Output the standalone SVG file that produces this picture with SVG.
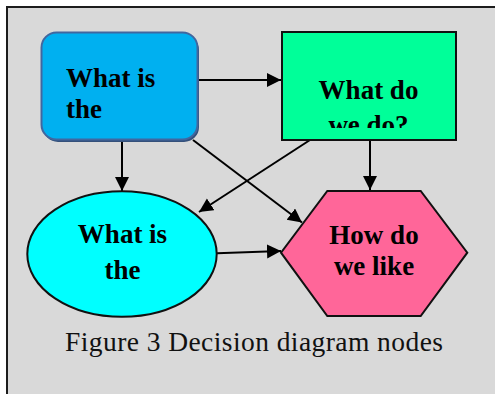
<svg xmlns="http://www.w3.org/2000/svg" width="495" height="394" viewBox="0 0 495 394">
<style>
.lbl{font-family:"Liberation Serif","Times New Roman",serif;font-weight:bold;font-size:27px;fill:#000}
.cap{font-family:"Liberation Serif","Times New Roman",serif;font-size:27.5px;fill:#111}
.edge{stroke:#000;stroke-width:2;fill:none;marker-end:url(#ah)}
.nb{stroke:#111;stroke-width:2}
</style>
<defs>
<marker id="ah" markerUnits="userSpaceOnUse" markerWidth="15" markerHeight="15" refX="14" refY="7" orient="auto">
<path d="M0,0 L14,7 L0,14 z" fill="#000"/>
</marker>
<clipPath id="cg"><rect x="283" y="33" width="172" height="95"/></clipPath>
</defs>
<rect x="7" y="7" width="500" height="400" fill="#d9d9d9" stroke="#1c1c1c" stroke-width="2"/>
<g id="connectors">
<line class="edge" x1="198" y1="80" x2="281" y2="80"/>
<line class="edge" x1="122" y1="142" x2="122" y2="191"/>
<line class="edge" x1="193" y1="140" x2="302" y2="222.5"/>
<line class="edge" x1="310" y1="140" x2="199" y2="212"/>
<line class="edge" x1="370" y1="140" x2="370" y2="190"/>
<line class="edge" x1="217" y1="253.3" x2="281" y2="251"/>
</g>
<g id="node-blue">
<rect x="43" y="35" width="156" height="107" rx="15" fill="#34507a"/>
<rect x="41.5" y="32.5" width="156" height="107" rx="15" fill="#00b0f0" stroke="#41679f" stroke-width="2"/>
<text class="lbl" x="66" y="87">What is</text>
<text class="lbl" x="66" y="118">the</text>
</g>
<g id="node-green">
<rect x="282" y="32" width="174" height="108" fill="#00ff99" class="nb"/>
<g clip-path="url(#cg)">
<text class="lbl" x="368.5" y="99" text-anchor="middle">What do</text>
<text class="lbl" x="368.5" y="134" text-anchor="middle">we do?</text>
</g>
</g>
<g id="node-ellipse">
<ellipse cx="122" cy="254" rx="94.7" ry="62.8" fill="#00ffff" class="nb"/>
<text class="lbl" x="122.5" y="242.7" text-anchor="middle">What is</text>
<text class="lbl" x="122.5" y="278.5" text-anchor="middle">the</text>
</g>
<g id="node-hexagon">
<polygon points="327.3,191 420.7,191 467.3,252.7 420.7,316 327.3,316 281,252.7" fill="#ff6699" class="nb"/>
<text class="lbl" x="374" y="244" text-anchor="middle">How do</text>
<text class="lbl" x="374" y="275" text-anchor="middle">we like</text>
</g>
<text class="cap" x="65" y="350.5" textLength="378" lengthAdjust="spacing">Figure 3 Decision diagram nodes</text>
</svg>
